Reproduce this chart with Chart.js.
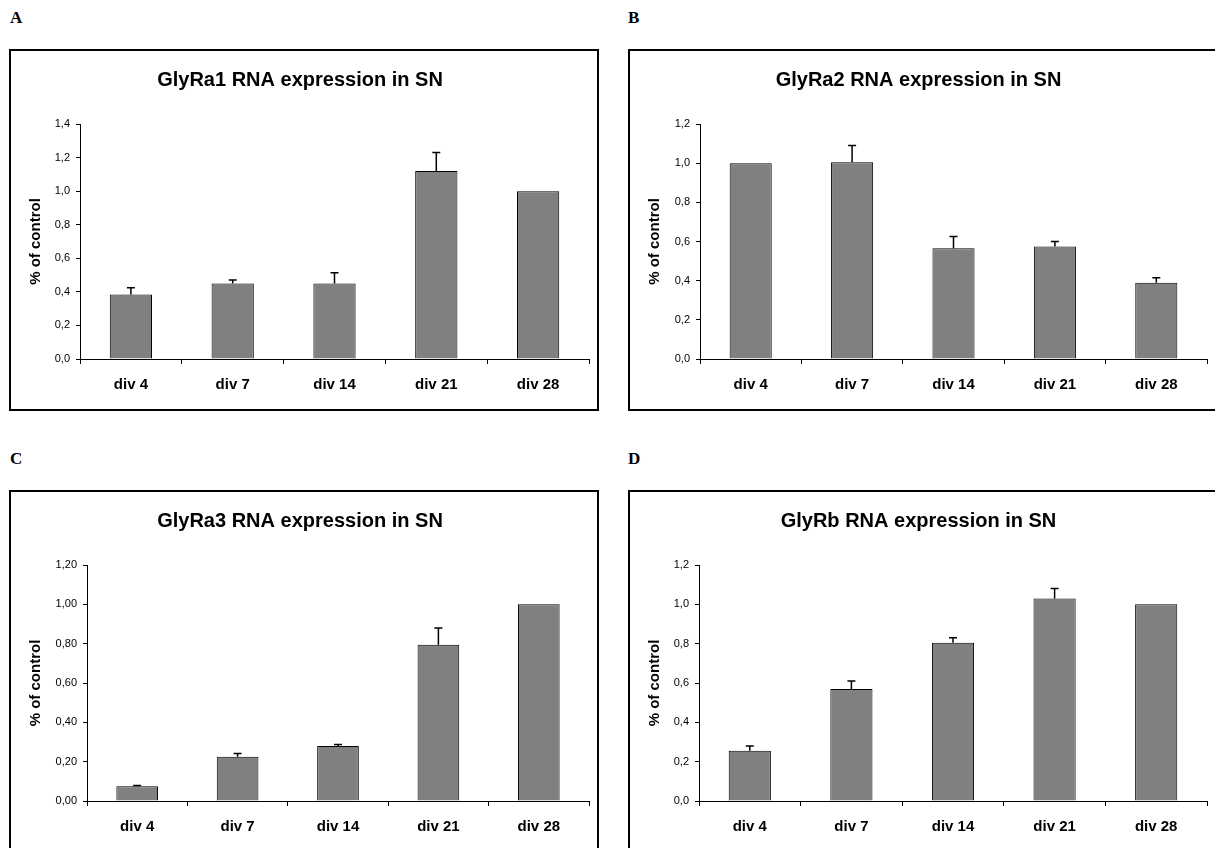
<!DOCTYPE html>
<html>
<head>
<meta charset="utf-8">
<script src="https://cdn.jsdelivr.net/npm/chart.js@4.4.1/dist/chart.umd.min.js"></script>
<style>
  html, body { margin: 0; padding: 0; background: #fff; }
  body { width: 1215px; height: 848px; position: relative; overflow: hidden; }
  .letter { position: absolute; font-family: "Liberation Serif", "Times New Roman", serif;
            font-weight: bold; font-size: 17px; line-height: 17px; color: #000; }
  .panel { position: absolute; box-sizing: border-box; border: 2px solid #000; background: #fff; }
  .panel .holder { position: absolute; left: 0; top: 0; right: 0; bottom: 0; }
</style>
</head>
<body>
<div class="letter" style="left:10px;top:9px">A</div>
<div class="letter" style="left:628px;top:9px">B</div>
<div class="letter" style="left:10px;top:450px">C</div>
<div class="letter" style="left:628px;top:450px">D</div>

<div class="panel" style="left:9px;top:49px;width:590px;height:362px"><div class="holder"><canvas id="chartA"></canvas></div></div>
<div class="panel" style="left:628px;top:49px;width:592px;height:362px"><div class="holder"><canvas id="chartB"></canvas></div></div>
<div class="panel" style="left:9px;top:490px;width:590px;height:400px"><div class="holder"><canvas id="chartC"></canvas></div></div>
<div class="panel" style="left:628px;top:490px;width:592px;height:400px"><div class="holder"><canvas id="chartD"></canvas></div></div>

<script>
// Days in vitro
const categories = ['div 4', 'div 7', 'div 14', 'div 21', 'div 28'];

// Relative RNA expression (fraction of control) and upper error (SEM)
const ra1Values = [0.385, 0.45, 0.45, 1.12, 1.00];
const ra1Errors = [0.04, 0.02, 0.064, 0.11, 0];

const ra2Values = [1.00, 1.005, 0.565, 0.575, 0.39];
const ra2Errors = [0, 0.085, 0.06, 0.025, 0.025];

const ra3Values = [0.075, 0.225, 0.28, 0.795, 1.00];
const ra3Errors = [0.004, 0.017, 0.007, 0.085, 0];

const rbValues = [0.255, 0.57, 0.805, 1.03, 1.00];
const rbErrors = [0.025, 0.04, 0.025, 0.05, 0];

const chartTitles = [
  'GlyRa1 RNA expression in SN',
  'GlyRa2 RNA expression in SN',
  'GlyRa3 RNA expression in SN',
  'GlyRb RNA expression in SN'
];
const yAxisTitle = '% of control';
const yMaxima = [1.4, 1.2, 1.2, 1.2];
const yStep = 0.2;
const yDecimals = [1, 1, 2, 1];

Chart.defaults.font.family = '"Liberation Sans", Arial, sans-serif';
Chart.defaults.color = '#000';

// Upward-only error whiskers with a short cap
const errorBars = {
  id: 'errorBars',
  afterDatasetsDraw(chart, args, opts) {
    const errs = opts.errors;
    if (!errs) return;
    const meta = chart.getDatasetMeta(0);
    const yScale = chart.scales.y;
    const values = chart.data.datasets[0].data;
    const ctx = chart.ctx;
    ctx.save();
    ctx.strokeStyle = '#000';
    ctx.lineWidth = opts.lineWidth || 1.5;
    meta.data.forEach((bar, i) => {
      const e = errs[i];
      if (!e) return;
      const yTop = yScale.getPixelForValue(values[i] + e);
      ctx.beginPath();
      ctx.moveTo(bar.x, bar.y);
      ctx.lineTo(bar.x, yTop);
      ctx.moveTo(bar.x - opts.capHalf, yTop);
      ctx.lineTo(bar.x + opts.capHalf, yTop);
      ctx.stroke();
    });
    ctx.restore();
  }
};

function makeChart(id, idx, values, errors, frame) {
  const dec = yDecimals[idx];
  return new Chart(document.getElementById(id), {
    type: 'bar',
    data: {
      labels: categories,
      datasets: [{
        data: values,
        backgroundColor: '#808080',
        borderColor: '#000',
        borderWidth: 1,
        barPercentage: 0.415,
        categoryPercentage: 1.0
      }]
    },
    options: {
      responsive: true,
      maintainAspectRatio: false,
      animation: false,
      layout: { padding: { left: 0, top: 0, bottom: 0, right: frame.padRight } },
      plugins: {
        legend: { display: false },
        tooltip: { enabled: false },
        title: {
          display: true,
          text: chartTitles[idx],
          font: { size: 20, weight: 'bold' },
          padding: { top: 17, bottom: 32 }
        },
        errorBars: { errors: errors, capHalf: 4, lineWidth: 1.5 }
      },
      scales: {
        x: {
          grid: { display: true, drawOnChartArea: false, drawTicks: true, tickLength: 5, color: '#000', lineWidth: 1 },
          border: { display: true, color: '#000', width: 1 },
          ticks: { font: { size: 15, weight: 'bold' }, padding: 12, maxRotation: 0 },
          afterFit: (s) => { s.height = frame.xHeight; }
        },
        y: {
          min: 0,
          max: yMaxima[idx],
          grid: { display: true, drawOnChartArea: false, drawTicks: true, tickLength: 4, color: '#000', lineWidth: 1 },
          border: { display: true, color: '#000', width: 1 },
          ticks: {
            stepSize: yStep,
            font: { size: 11 },
            padding: 6,
            callback: (v) => Number(v).toFixed(dec).replace('.', ',')
          },
          title: {
            display: true,
            text: yAxisTitle,
            font: { size: 15, weight: 'bold' },
            padding: { top: 16, bottom: 0 }
          },
          afterFit: (s) => { s.width = frame.yWidth; }
        }
      }
    },
    plugins: [errorBars]
  });
}

makeChart('chartA', 0, ra1Values, ra1Errors, { yWidth: 69, padRight: 8, xHeight: 50 });
makeChart('chartB', 1, ra2Values, ra2Errors, { yWidth: 70, padRight: 11, xHeight: 50 });
makeChart('chartC', 2, ra3Values, ra3Errors, { yWidth: 76, padRight: 8, xHeight: 87 });
makeChart('chartD', 3, rbValues, rbErrors, { yWidth: 69, padRight: 11, xHeight: 87 });
</script>
</body>
</html>
